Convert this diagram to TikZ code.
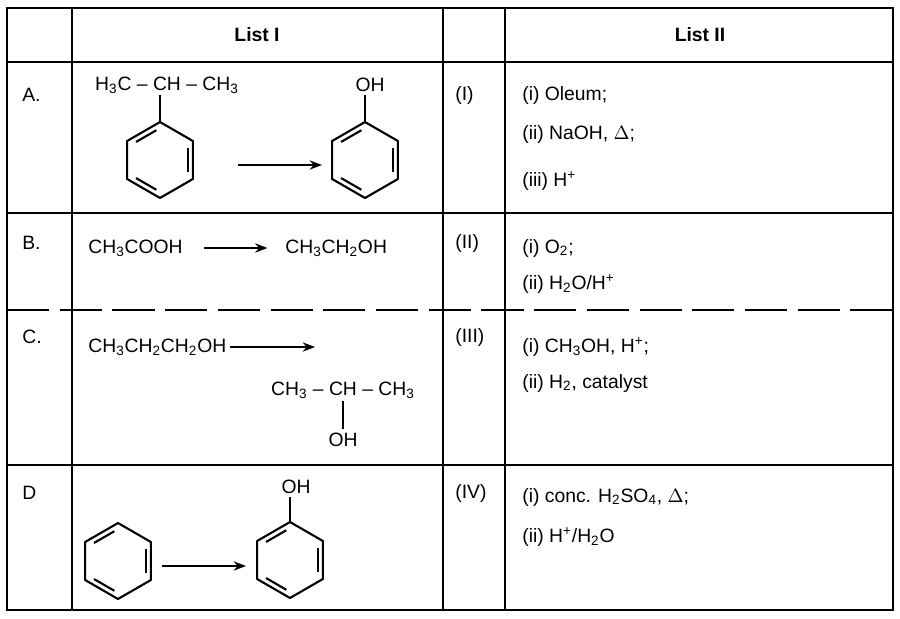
\documentclass[tikz,border=0pt]{standalone}
\usepackage{fontspec}
\setmainfont{Liberation Sans}
\usetikzlibrary{arrows.meta}
\newcommand\benzene[3]{
	\coordinate (#1) at (#2,#3);
	\draw[bond] (#1) +(90:0.76cm) -- +(150:0.76cm) -- +(210:0.76cm) -- +(270:0.76cm)
	    -- +(330:0.76cm) -- +(30:0.76cm) -- cycle;
	\draw[bond] (#1) +(97:0.6cm) -- +(143:0.6cm);
	\draw[bond] (#1) +(337:0.6cm) -- +(23:0.6cm);
	\draw[bond] (#1) +(217:0.6cm) -- +(263:0.6cm);
}
\tikzset{
	txt/.style={anchor=west, inner sep=0, font=\fontsize{11}{13}\selectfont},
	lbl/.style={inner sep=0, font=\fontsize{11}{13}\selectfont},
	rxn/.style={-{Stealth[length=7pt]}, line width=1.1pt},
	bond/.style={line width=1.2pt, line join=round}
}
\begin{document}
\begin{tikzpicture}[x=0.02cm, y=-0.02cm]
	\useasboundingbox (0,0) rectangle (900,619);

	% grid
	\draw[line width=1.2pt] (7,8) rectangle (893,610);
	\foreach \x in {72,443,505} \draw[semithick] (\x,8) -- (\x,610);
	\foreach \y in {62,213,465} \draw[semithick] (7,\y) -- (893,\y);
	\draw[line width=1.2pt, dash pattern=on 24pt off 6pt] (7,310) -- (893,310);

	% headers
	\node[lbl] (h1) at (257,35) {\textbf{List I}};
	\node[lbl] (h2) at (700,35) {\textbf{List II}};

	% row labels
	\node[txt] (ra) at (22,95) {A.};
	\node[txt] (rb) at (22,243) {B.};
	\node[txt] (rc) at (22,337) {C.};
	\node[txt] (rd) at (22,493) {D};

	% row A
	\node[lbl] (ipr) at (167,85) {H\textsubscript{3}C -- CH -- CH\textsubscript{3}};
	\benzene{bza}{160}{160}
	\coordinate (bzatop) at (160,122);
	\draw[bond] (bzatop) -- (160,95);
	\benzene{pha}{365}{160}
	\node[lbl] (oha) at (370,85) {OH};
	\draw[bond] (365,122) -- (365,95);
	\coordinate (a1) at (238,165);
	\coordinate (a2) at (322,165);
	\draw[rxn] (a1) -- (a2);

	% row B
	\node[txt] (acid) at (88,248) {CH\textsubscript{3}COOH};
	\node[txt] (etoh) at (285,248) {CH\textsubscript{3}CH\textsubscript{2}OH};
	\draw[rxn] ([xshift=12pt]acid.east) -- ([xshift=-10pt]etoh.west);

	% row C
	\node[txt] (prop) at (88,347) {CH\textsubscript{3}CH\textsubscript{2}CH\textsubscript{2}OH};
	\coordinate (c2) at (315,347);
	\draw[rxn] ([xshift=2pt]prop.east) -- (c2);
	\node[lbl] (ipa) at (343,390) {CH\textsubscript{3} -- CH -- CH\textsubscript{3}};
	\node[lbl] (ohc) at (343,440) {OH};
	\draw[bond] (343,401) -- ([yshift=2pt]ohc.north);

	% row D
	\benzene{bzd}{118}{561}
	\benzene{phd}{290}{560}
	\node[lbl] (ohd) at (296,487) {OH};
	\draw[bond] (290,522) -- (290,497);
	\coordinate (d1) at (162,566);
	\coordinate (d2) at (246,566);
	\draw[rxn] (d1) -- (d2);

	% list II numbers
	\node[txt] (n1) at (455,95) {(I)};
	\node[txt] (n2) at (455,243) {(II)};
	\node[txt] (n3) at (455,337) {(III)};
	\node[txt] (n4) at (455,493) {(IV)};

	% list II reagents
	\node[txt] (ia) at (522,95) {(i) Oleum;};
	\node[txt] (ib) at (522,134) {(ii) NaOH, $\Delta$;};
	\node[txt] (ic) at (522,181) {(iii) H\textsuperscript{+}};
	\node[txt] (iia) at (522,248) {(i) O\textsubscript{2};};
	\node[txt] (iib) at (522,284) {(ii) H\textsubscript{2}O/H\textsuperscript{+}};
	\node[txt] (iiia) at (522,347) {(i) CH\textsubscript{3}OH, H\textsuperscript{+};};
	\node[txt] (iiib) at (522,383) {(ii) H\textsubscript{2}, catalyst};
	\node[txt] (iva) at (522,497) {(i) conc. H\textsubscript{2}SO\textsubscript{4}, $\Delta$;};
	\node[txt] (ivb) at (522,537) {(ii) H\textsuperscript{+}/H\textsubscript{2}O};
\end{tikzpicture}
\end{document}
